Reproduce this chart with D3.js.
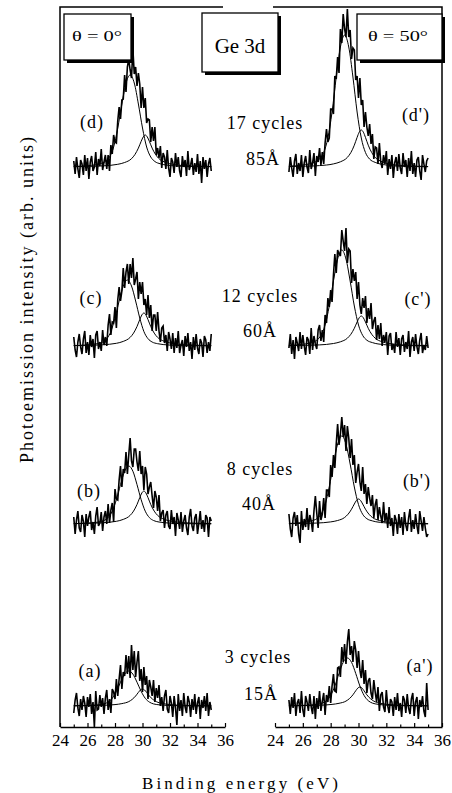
<!DOCTYPE html>
<html><head><meta charset="utf-8">
<script src="https://cdn.jsdelivr.net/npm/d3@7"></script>
<style>
body{margin:0;background:#fff}
svg{display:block}
text{font-family:"Liberation Serif","Times New Roman",serif;fill:#000}
</style>
</head><body>
<svg id="c" width="452" height="793"></svg>
<script>
// ---------------- data ----------------
const energies = [25,25.1,25.2,25.3,25.4,25.5,25.6,25.7,25.8,25.9,
26,26.1,26.2,26.3,26.4,26.5,26.6,26.7,26.8,26.9,
27,27.1,27.2,27.3,27.4,27.5,27.6,27.7,27.8,27.9,
28,28.1,28.2,28.3,28.4,28.5,28.6,28.7,28.8,28.9,
29,29.1,29.2,29.3,29.4,29.5,29.6,29.7,29.8,29.9,
30,30.1,30.2,30.3,30.4,30.5,30.6,30.7,30.8,30.9,
31,31.1,31.2,31.3,31.4,31.5,31.6,31.7,31.8,31.9,
32,32.1,32.2,32.3,32.4,32.5,32.6,32.7,32.8,32.9,
33,33.1,33.2,33.3,33.4,33.5,33.6,33.7,33.8,33.9,
34,34.1,34.2,34.3,34.4,34.5,34.6,34.7,34.8,34.9,
35];

// measured intensities (arb. units), theta = 0 deg
const spec_d = [6,-7,10,-2,-11,7,3,-8,12,-4, 9,-12,5,11,-4,0,15,-8,8,1, 18,-3,5,12,-2,12,-4,22,13,32, 25,24,46,60,48,67,68,92,75,100, 108,97,89,118,93,100,81,94,83,59, 80,59,69,44,48,47,25,40,26,40, 12,19,9,21,-1,14,10,-2,17,-1, -10,9,5,-6,14,0,10,-4,-10,11, 0,7,-9,16,-3,2,9,-8,4,-5, 13,-7,6,-16,10,-2,7,-10,3,9, -4];
const spec_c = [9,-4,-11,4,12,-1,-8,7,15,-7, 4,-9,11,-1,7,-12,11,15,-3,4, -5,16,1,9,0,21,32,11,24,23, 39,18,46,59,45,55,78,58,74,82, 62,82,68,88,61,67,74,47,64,52, 64,41,47,31,51,28,41,15,31,31, 15,34,15,4,18,20,3,11,-5,14, 7,-3,13,-7,8,-2,15,-7,1,6, -10,10,-1,13,-5,4,-13,9,-4,12, -2,-8,7,3,-11,10,6,-7,4,-5, 12];
const spec_b = [7,-10,4,13,-4,-8,9,3,-13,10, -2,7,13,-6,2,-10,8,17,-2,1, 12,-7,7,13,0,20,1,14,21,2, 35,25,24,44,58,37,55,51,72,50, 69,86,63,57,75,75,62,53,73,50, 58,34,57,50,30,37,42,28,16,33, 27,13,29,3,11,14,-4,9,13,-2, -5,14,0,7,-12,11,4,-5,12,-8, 3,9,-4,-11,7,15,-2,-7,6,10, -10,1,13,-5,4,-8,9,6,-13,7, 3];
const spec_a = [-7,6,13,-2,-10,7,-4,10,3,-11, 9,-1,12,-8,4,-21,15,-4,-3,11, -1,8,-8,8,16,-4,7,-7,17,14, 7,27,10,27,41,17,34,30,51,32, 50,28,61,36,55,29,44,55,25,37, 14,39,21,30,7,26,19,10,26,4, 18,8,21,0,9,-5,10,16,-3,-7, 10,3,-11,10,-2,-19,12,-5,6,-10, 13,-1,-7,10,4,-11,7,-4,12,-8, 3,9,-13,6,-2,10,-5,13,-10,4, -4];
// theta = 50 deg
const spec_d2 = [-5,10,-1,-10,6,13,-7,4,-4,12, -10,4,11,0,-6,17,-2,4,14,-9, 11,5,19,2,15,3,24,38,25,29, 58,58,53,91,88,110,94,138,124,153, 138,130,158,130,137,108,119,117,87,91, 69,89,62,67,40,55,40,31,43,23, 33,8,20,19,3,24,5,-1,12,3, 16,-8,8,-2,12,-11,4,10,-4,13, -1,-7,14,0,7,-10,9,-4,16,-7, 4,-10,7,10,-4,-13,12,3,-5,6, 9];
const spec_c2 = [-2,12,-8,6,-13,9,3,-5,14,-3, 11,0,-9,9,6,-8,18,-4,10,2, -3,16,21,5,16,4,31,23,48,39, 56,44,71,92,73,96,92,90,116,105, 95,118,83,97,95,63,77,65,74,47, 64,41,32,48,38,50,23,38,27,43, 17,25,29,6,21,7,23,0,11,4, 14,-9,10,13,-4,2,-7,14,-1,8, -9,7,11,-6,4,-3,15,-11,4,9, -5,12,-1,-8,6,13,-7,1,-4,10, -2];
const spec_b2 = [10,-5,-13,6,12,-2,9,-10,-19,13, -6,5,-3,16,-6,9,3,-8,13,28, 11,-4,23,4,10,26,6,34,34,27, 59,47,69,56,80,100,79,90,107,87, 99,73,98,86,66,85,59,69,41,52, 60,42,33,57,30,40,20,37,26,18, 29,6,19,25,4,17,8,1,22,3, 11,-4,17,-2,6,-12,9,4,-10,10, -4,7,-11,12,-1,-7,6,15,-8,4, -5,10,-2,-10,13,3,-7,7,-4,-13, -10];
const spec_a2 = [6,-8,9,-2,13,-10,3,7,-7,15, -4,-11,10,4,-5,12,-1,-8,10,-13, 8,-3,15,-5,5,13,-9,11,4,20, 3,20,32,15,14,38,39,29,59,44, 62,42,64,77,51,60,44,65,56,38, 55,36,28,46,22,36,13,25,28,13, 7,26,14,4,19,-5,11,14,-1,-6, 16,0,-7,7,4,-10,9,-4,13,-5, 3,-11,10,6,-7,12,-2,-8,7,13, -10,4,9,-13,6,-1,10,-5,-11,23, -4];

// fitted components [binding energy, intensity]
const fitMain_d = [[25,0.5],[26.1,1.4],[26.9,3.2],[27.3,5.5],[27.6,10],[27.9,20],[28.2,39],[28.5,63],[28.8,84],[29.1,92],[29.4,84],[29.7,63],[30.0,39],[30.3,20],[30.6,10],[30.9,5.5],[31.3,3.2],[32.1,1.4],[33.1,0.6],[35,0.3]];
const fitSub_d = [[25,0.4],[26.2,0.7],[27.2,1.2],[28.2,2.7],[28.7,4.5],[29.2,8.3],[29.45,12.5],[29.7,18.9],[29.9,25.6],[30.05,30],[30.2,32],[30.35,30],[30.5,25.6],[30.7,18.9],[30.95,12.5],[31.2,8.3],[31.7,4.5],[32.2,2.7],[33.2,1.2],[34.2,0.7],[35,0.5]];
const fitMain_c = [[25,0.4],[25.9,1],[26.7,2.3],[27.1,4],[27.4,7.3],[27.7,14.5],[28.0,28],[28.3,45],[28.6,60],[28.9,66],[29.2,60],[29.5,45],[29.8,28],[30.1,14.5],[30.4,7.3],[30.7,4],[31.1,2.3],[31.9,1],[32.9,0.4],[35,0.2]];
const fitSub_c = [[25,0.4],[26.1,0.7],[27.1,1.25],[28.1,2.7],[28.6,4.6],[29.1,8.6],[29.35,12.9],[29.6,19.5],[29.8,26.4],[29.95,31],[30.1,33],[30.25,31],[30.4,26.4],[30.6,19.5],[30.85,12.9],[31.1,8.6],[31.6,4.6],[32.1,2.7],[33.1,1.25],[34.1,0.7],[35,0.5]];
const fitMain_b = [[25,0.35],[26.0,0.9],[26.8,2],[27.2,3.5],[27.5,6.4],[27.8,12.8],[28.1,24.4],[28.4,39.4],[28.7,52.8],[29.0,58],[29.3,52.8],[29.6,39.4],[29.9,24.4],[30.2,12.8],[30.5,6.4],[30.8,3.5],[31.2,2],[32.0,0.9],[33.0,0.35],[35,0.1]];
const fitSub_b = [[25,0.4],[26.1,0.7],[27.1,1.25],[28.1,2.7],[28.6,4.6],[29.1,8.6],[29.35,12.9],[29.6,19.5],[29.8,26.4],[29.95,31],[30.1,33],[30.25,31],[30.4,26.4],[30.6,19.5],[30.85,12.9],[31.1,8.6],[31.6,4.6],[32.1,2.7],[33.1,1.25],[34.1,0.7],[35,0.5]];
const fitMain_a = [[25,0.2],[26.0,0.5],[26.8,1.2],[27.2,2.1],[27.5,3.9],[27.8,7.7],[28.1,14.7],[28.4,23.8],[28.7,31.9],[29.0,35],[29.3,31.9],[29.6,23.8],[29.9,14.7],[30.2,7.7],[30.5,3.9],[30.8,2.1],[31.2,1.2],[32.0,0.5],[33.0,0.2],[35,0.1]];
const fitSub_a = [[25,0.24],[26.0,0.37],[27.0,0.65],[28.0,1.4],[28.5,2.4],[29.0,4.4],[29.25,6.6],[29.5,10],[29.7,13.6],[29.85,16],[30.0,17],[30.15,16],[30.3,13.6],[30.5,10],[30.75,6.6],[31.0,4.4],[31.5,2.4],[32.0,1.4],[33.0,0.65],[34.0,0.37],[35,0.24]];
const fitMain_d2 = [[25,0.8],[26.0,2],[26.8,4.6],[27.2,7.9],[27.5,14.5],[27.8,29],[28.1,55],[28.4,90],[28.7,120],[29.0,132],[29.3,120],[29.6,90],[29.9,55],[30.2,29],[30.5,14.5],[30.8,7.9],[31.2,4.6],[32.0,2],[33.0,0.8],[35,0.3]];
const fitSub_d2 = [[25,0.5],[26.2,0.8],[27.2,1.4],[28.2,3.1],[28.7,5.2],[29.2,9.6],[29.45,14.4],[29.7,21.8],[29.9,29.6],[30.05,34.8],[30.2,37],[30.35,34.8],[30.5,29.6],[30.7,21.8],[30.95,14.4],[31.2,9.6],[31.7,5.2],[32.2,3.1],[33.2,1.4],[34.2,0.8],[35,0.5]];
const fitMain_c2 = [[25,0.5],[25.8,1.4],[26.6,3.4],[27.0,5.8],[27.3,10.6],[27.6,21],[27.9,40],[28.2,65],[28.5,87],[28.8,96],[29.1,87],[29.4,65],[29.7,40],[30.0,21],[30.3,10.6],[30.6,5.8],[31.0,3.4],[31.8,1.4],[32.8,0.6],[35,0.2]];
const fitSub_c2 = [[25,0.4],[26.2,0.66],[27.2,1.1],[28.2,2.5],[28.7,4.2],[29.2,7.8],[29.45,11.7],[29.7,17.7],[29.9,24],[30.05,28.2],[30.2,30],[30.35,28.2],[30.5,24],[30.7,17.7],[30.95,11.7],[31.2,7.8],[31.7,4.2],[32.2,2.5],[33.2,1.1],[34.2,0.66],[35,0.42]];
const fitMain_b2 = [[25,0.5],[25.8,1.3],[26.6,3.1],[27.0,5.3],[27.3,9.7],[27.6,19.4],[27.9,37],[28.2,60],[28.5,80],[28.8,88],[29.1,80],[29.4,60],[29.7,37],[30.0,19.4],[30.3,9.7],[30.6,5.3],[31.0,3.1],[31.8,1.3],[32.8,0.5],[35,0.2]];
const fitSub_b2 = [[25,0.35],[26.0,0.55],[27.0,0.95],[28.0,2.1],[28.5,3.5],[29.0,6.5],[29.25,9.8],[29.5,14.8],[29.7,20],[29.85,23.5],[30.0,25],[30.15,23.5],[30.3,20],[30.5,14.8],[30.75,9.8],[31.0,6.5],[31.5,3.5],[32.0,2.1],[33.0,0.95],[34.0,0.55],[35,0.35]];
const fitMain_a2 = [[25,0.3],[26.2,0.7],[27.0,1.7],[27.4,2.9],[27.7,5.3],[28.0,10.6],[28.3,20],[28.6,32.6],[28.9,43.7],[29.2,48],[29.5,43.7],[29.8,32.6],[30.1,20],[30.4,10.6],[30.7,5.3],[31.0,2.9],[31.4,1.7],[32.2,0.7],[33.2,0.3],[35,0.1]];
const fitSub_a2 = [[25,0.27],[26.1,0.42],[27.1,0.7],[28.1,1.6],[28.6,2.7],[29.1,4.9],[29.35,7.4],[29.6,11.2],[29.8,15.2],[29.95,17.9],[30.1,19],[30.25,17.9],[30.4,15.2],[30.6,11.2],[30.85,7.4],[31.1,4.9],[31.6,2.7],[32.1,1.6],[33.1,0.7],[34.1,0.42],[35,0.27]];

const tagsLeft = ["(d)","(c)","(b)","(a)"];
const tagsRight = ["(d')","(c')","(b')","(a')"];
const cycleLabels = ["17 cycles","12 cycles","8 cycles","3 cycles"];
const thicknessLabels = ["85Å","60Å","40Å","15Å"];
const majorTicks = [24,26,28,30,32,34,36];
const minorTicks = [25,27,29,31,33,35];
const angleLabels = ["θ = 0°","θ = 50°"];
const coreLevel = "Ge 3d";
const xTitle = "Binding energy (eV)";
const yTitle = "Photoemission intensity (arb. units)";

// --------------- layout ---------------
const FONT = '"Liberation Serif","Times New Roman",serif';
const svg = d3.select('#c');
const xScales = [
  d3.scaleLinear().domain([24,36]).range([60,225]),
  d3.scaleLinear().domain([24,36]).range([275,442])
];
const rowBase = [167,346,524,706];
const rows = [
  {tagL:[92,128], tagR:[416,121], cyc:[265,129], thick:[263,165]},
  {tagL:[91,304], tagR:[418,305], cyc:[260,302], thick:[260,337]},
  {tagL:[89,497], tagR:[417,487], cyc:[260,475], thick:[259,510]},
  {tagL:[90,677], tagR:[420,672], cyc:[258,663], thick:[261,700]}
];
const spectra = [
  {row:0, side:0, data:spec_d,  fits:[fitMain_d, fitSub_d]},
  {row:1, side:0, data:spec_c,  fits:[fitMain_c, fitSub_c]},
  {row:2, side:0, data:spec_b,  fits:[fitMain_b, fitSub_b]},
  {row:3, side:0, data:spec_a,  fits:[fitMain_a, fitSub_a]},
  {row:0, side:1, data:spec_d2, fits:[fitMain_d2, fitSub_d2]},
  {row:1, side:1, data:spec_c2, fits:[fitMain_c2, fitSub_c2]},
  {row:2, side:1, data:spec_b2, fits:[fitMain_b2, fitSub_b2]},
  {row:3, side:1, data:spec_a2, fits:[fitMain_a2, fitSub_a2]}
];

const gPlot = svg.append('g');
spectra.forEach(s => {
  const x = xScales[s.side];
  const base = rowBase[s.row];
  const y = d3.scaleLinear().domain([0,100]).range([base, base-100]);
  const fitLine = d3.line().x(d=>x(d[0])).y(d=>y(d[1])).curve(d3.curveMonotoneX);
  s.fits.forEach(f => {
    gPlot.append('path').attr('d', fitLine(f))
      .attr('fill','none').attr('stroke','#000').attr('stroke-width',1);
  });
  const dataLine = d3.line().x((d,i)=>x(energies[i])).y(d=>y(d));
  gPlot.append('path').attr('d', dataLine(s.data))
    .attr('fill','none').attr('stroke','#000').attr('stroke-width',1.6)
    .attr('stroke-linejoin','miter').attr('stroke-miterlimit',3);
});

// frame
svg.append('path')
  .attr('d','M60,727V7H223M273,7H442V727')
  .attr('fill','none').attr('stroke','#000').attr('stroke-width',1.5);

// axes
xScales.forEach(x => {
  const gMaj = svg.append('g').attr('transform','translate(0,727)')
    .call(d3.axisBottom(x).tickValues(majorTicks).tickFormat(d3.format('d'))
      .tickSizeInner(-4).tickSizeOuter(0).tickPadding(7));
  gMaj.attr('font-family', FONT);
  gMaj.select('.domain').attr('stroke-width',1.5);
  gMaj.selectAll('.tick line').attr('stroke-width',1.2);
  gMaj.selectAll('text').attr('font-size',17).style('font-family',FONT);
  const gMin = svg.append('g').attr('transform','translate(0,727)')
    .call(d3.axisBottom(x).tickValues(minorTicks).tickFormat('')
      .tickSizeInner(-2.5).tickSizeOuter(0));
  gMin.select('.domain').remove();
  gMin.selectAll('.tick line').attr('stroke-width',1.2);
});

// boxes
function box(x0,y0,w,h){
  svg.append('rect').attr('x',x0+3).attr('y',y0+3).attr('width',w).attr('height',h).attr('fill','#000');
  svg.append('rect').attr('x',x0).attr('y',y0).attr('width',w).attr('height',h)
    .attr('fill','#fff').attr('stroke','#000').attr('stroke-width',1.3);
}
box(64,14,67,46);
box(202,13,76,59);
box(357,14,85,46);
svg.append('text').attr('x',97).attr('y',41).attr('text-anchor','middle')
  .attr('font-size',15).attr('textLength',50).attr('lengthAdjust','spacingAndGlyphs').text(angleLabels[0]);
svg.append('text').attr('x',398).attr('y',41).attr('text-anchor','middle')
  .attr('font-size',15).attr('textLength',60).attr('lengthAdjust','spacingAndGlyphs').text(angleLabels[1]);
svg.append('text').attr('x',240).attr('y',53).attr('text-anchor','middle')
  .attr('font-size',21).text(coreLevel);

// row labels
rows.forEach((r,i) => {
  const t = (p,str) => svg.append('text').attr('x',p[0]).attr('y',p[1])
    .attr('text-anchor','middle').attr('font-size',18).attr('letter-spacing',1).text(str);
  t(r.tagL, tagsLeft[i]);
  t(r.tagR, tagsRight[i]);
  t(r.cyc, cycleLabels[i]);
  t(r.thick, thicknessLabels[i]);
});

// axis titles
svg.append('text').attr('x',240).attr('y',789).attr('text-anchor','middle')
  .attr('font-size',17).attr('textLength',196).attr('lengthAdjust','spacing').text(xTitle);
svg.append('text').attr('transform','translate(33,300) rotate(-90)')
  .attr('text-anchor','middle').attr('font-size',18)
  .attr('textLength',326).attr('lengthAdjust','spacing').text(yTitle);
</script>
</body></html>
